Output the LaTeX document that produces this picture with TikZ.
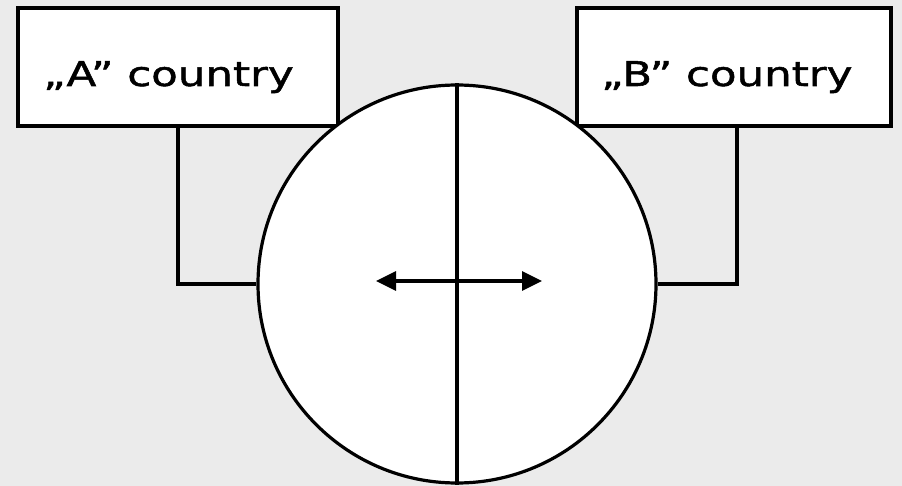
\documentclass[tikz,border=0pt]{standalone}
\usepackage{fontspec}
\setmainfont{DejaVu Sans}
\newfontfamily\lblfont[FakeStretch=1.28, FakeBold=1.5]{DejaVu Sans}
\usetikzlibrary{arrows.meta}
\definecolor{bgc}{HTML}{EBEBEB}
\tikzset{
  line/.style={draw=black, line width=3.2pt},
  country/.style={line, fill=white, rectangle, minimum height=118pt, inner sep=0pt},
  lbl/.style={anchor=base west, inner sep=0pt, font=\lblfont\fontsize{34pt}{40pt}\selectfont},
}
\begin{document}
\begin{tikzpicture}[x=1pt,y=-1pt]
\fill[bgc] (0,0) rectangle (902,486);
\useasboundingbox (0,0) rectangle (902,486);
\node[country, minimum width=320pt] (boxA) at (178,67) {};
\node[country, minimum width=314pt] (boxB) at (734,67) {};
\node[lbl] (tA) at (43,86) {„A” country};
\node[lbl] (tB) at (601,86) {„B” country};
\node[line, fill=white, circle, minimum size=398pt, inner sep=0pt] (circ) at (457,284) {};
\draw[line] (circ.north) -- (circ.south);
\draw[line] (boxA.south) |- (circ.west);
\draw[line] ([xshift=3pt]boxB.south) |- (circ.east);
\coordinate (al) at (376,281);
\coordinate (ar) at (542,281);
\draw[line, {Triangle[length=20pt,width=19pt]}-{Triangle[length=20pt,width=19pt]}] (al) -- (ar);
\end{tikzpicture}
\end{document}
